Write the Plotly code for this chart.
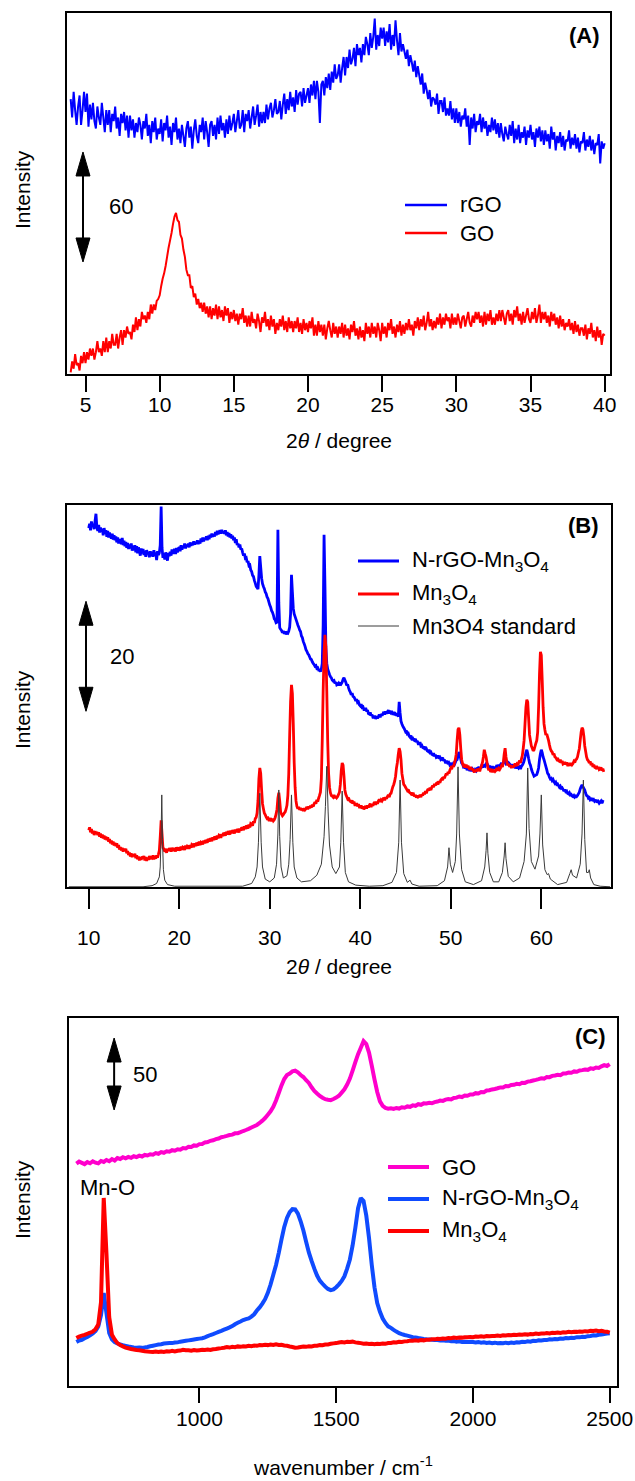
import plotly.graph_objects as go

W, H = 635, 1481
FONT = "Liberation Sans, Arial, sans-serif"

# ---------------- (A) XRD: rGO and GO ----------------
A_START, A_STEP = 4.0, 0.1
rgo_a = [
    163, 153, 167, 157, 149, 159, 165, 149, 157, 167,
    156, 166, 148, 160, 152, 161, 151, 147, 159, 153,
    149, 161, 153, 145, 157, 149, 157, 145, 155, 151,
    159, 147, 153, 143, 155, 150, 156, 146, 154, 142,
    154, 146, 152, 142, 150, 145, 153, 149, 141, 151,
    147, 155, 143, 149, 139, 151, 145, 153, 141, 147,
    144, 152, 140, 150, 146, 154, 142, 148, 138, 150,
    145, 153, 141, 147, 139, 149, 143, 137, 147, 151,
    142, 148, 136, 146, 152, 143, 139, 149, 145, 153,
    141, 151, 145, 137, 149, 151, 143, 149, 141, 153,
    144, 154, 146, 150, 142, 152, 144, 154, 146, 150,
    155, 145, 151, 157, 147, 149, 157, 145, 155, 151,
    157, 147, 153, 159, 149, 154, 160, 148, 156, 150,
    156, 150, 160, 152, 158, 161, 153, 157, 163, 155,
    156, 162, 152, 160, 166, 155, 163, 157, 167, 159,
    164, 156, 168, 160, 166, 167, 159, 169, 161, 165,
    169, 161, 171, 165, 173, 163, 173, 167, 150, 171,
    173, 165, 175, 169, 177, 168, 178, 172, 182, 174,
    176, 182, 172, 180, 186, 176, 186, 180, 190, 182,
    185, 191, 181, 193, 187, 191, 183, 193, 187, 197,
    193, 187, 199, 191, 197, 207, 190, 198, 192, 202,
    196, 202, 192, 200, 194, 204, 190, 198, 192, 206,
    195, 187, 199, 189, 193, 189, 185, 190, 181, 187,
    183, 178, 184, 175, 181, 176, 171, 177, 166, 172,
    168, 163, 168, 159, 164, 163, 160, 166, 155, 162,
    162, 156, 164, 154, 158, 154, 162, 152, 158, 150,
    158, 150, 156, 148, 154, 152, 158, 148, 154, 138,
    153, 147, 155, 145, 151, 149, 155, 145, 153, 147,
    151, 143, 149, 145, 153, 146, 152, 144, 150, 142,
    150, 144, 140, 148, 144, 141, 149, 143, 151, 139,
    147, 141, 149, 139, 145, 142, 148, 138, 146, 142,
    149, 141, 145, 137, 147, 142, 148, 140, 146, 138,
    146, 140, 144, 136, 148, 141, 145, 135, 143, 139,
    145, 137, 143, 135, 141, 140, 146, 136, 142, 138,
    144, 136, 142, 134, 140, 139, 145, 135, 141, 137,
    143, 135, 141, 133, 139, 138, 144, 128, 140, 136,
    139,
]
go_a = [
    14, 20, 16, 24, 18, 19, 15, 23, 19, 25,
    19, 25, 21, 27, 23, 27, 21, 25, 31, 25,
    27, 23, 31, 25, 33, 25, 31, 27, 35, 29,
    29, 35, 27, 33, 37, 29, 37, 33, 39, 35,
    36, 32, 40, 36, 44, 37, 43, 39, 47, 43,
    45, 41, 47, 43, 51, 46, 51, 48, 53, 54,
    56, 61, 65, 68, 72, 77, 82, 86, 90, 95,
    99, 101, 97, 96, 89, 87, 81, 77, 70, 67,
    67, 60, 61, 55, 57, 51, 54, 49, 52, 47,
    52, 46, 50, 44, 50, 43, 49, 45, 51, 43,
    50, 44, 48, 42, 50, 45, 49, 41, 47, 43,
    48, 42, 46, 40, 46, 43, 49, 41, 45, 39,
    45, 39, 47, 41, 43, 38, 46, 42, 36, 44,
    41, 47, 39, 43, 37, 45, 39, 43, 35, 41,
    37, 43, 39, 45, 37, 42, 36, 44, 38, 42,
    36, 42, 38, 44, 36, 41, 35, 43, 37, 41,
    36, 42, 38, 44, 34, 40, 34, 42, 36, 40,
    34, 40, 32, 38, 42, 37, 33, 41, 35, 39,
    33, 39, 35, 41, 33, 40, 34, 38, 32, 40,
    36, 42, 34, 38, 32, 39, 33, 37, 31, 41,
    35, 39, 33, 41, 35, 39, 33, 41, 37, 31,
    41, 35, 39, 33, 41, 37, 43, 35, 39, 33,
    40, 36, 42, 34, 40, 35, 41, 37, 43, 37,
    40, 34, 42, 38, 44, 37, 43, 39, 45, 37,
    41, 47, 39, 43, 37, 42, 38, 44, 40, 46,
    38, 44, 40, 46, 42, 44, 38, 46, 40, 44,
    40, 46, 42, 38, 44, 45, 39, 43, 47, 41,
    39, 45, 41, 47, 43, 47, 41, 45, 39, 47,
    40, 46, 42, 48, 40, 44, 40, 46, 42, 48,
    42, 48, 44, 40, 46, 48, 42, 46, 40, 48,
    44, 50, 42, 46, 40, 47, 41, 45, 49, 43,
    41, 47, 43, 49, 41, 45, 51, 41, 47, 43,
    47, 41, 45, 39, 47, 42, 46, 40, 44, 38,
    45, 39, 43, 37, 41, 39, 43, 37, 41, 35,
    42, 36, 40, 34, 38, 38, 34, 40, 32, 38,
    35, 41, 33, 37, 31, 39, 33, 37, 29, 35,
    34,
]

# ---------------- (B) XRD: N-rGO-Mn3O4, Mn3O4, reference pattern ----------------
B_START, B_STEP = 10.0, 0.1
nrgo_b = [
    65.6, 66.4, 65.2, 66.8, 65.9, 66.3, 65.4, 66.9, 68.2, 65.8,
    65.1, 66.2, 64.8, 65.7, 64.9, 65.5, 64.3, 65.6, 64.6, 65.2,
    64.0, 65.1, 63.9, 64.8, 64.2, 63.7, 64.6, 63.5, 64.3, 63.4,
    64.1, 63.0, 63.9, 62.8, 63.6, 63.2, 62.7, 63.8, 62.5, 63.3,
    62.3, 63.1, 62.0, 62.9, 61.8, 62.6, 61.9, 62.8, 61.5, 62.4,
    61.6, 62.5, 61.2, 62.3, 61.0, 62.1, 61.4, 60.6, 61.9, 61.0,
    61.8, 60.7, 61.5, 60.4, 61.6, 60.9, 61.3, 60.3, 61.4, 60.5,
    61.3, 60.4, 61.6, 60.6, 61.2, 59.8, 61.4, 60.7, 61.1, 62.5,
    69.5, 62.0, 60.2, 61.0, 59.9, 61.2, 60.4, 59.7, 61.1, 60.5,
    61.3, 60.6, 61.7, 60.9, 61.5, 61.8, 60.9, 62.0, 61.2, 61.9,
    62.1, 61.4, 62.5, 61.7, 62.3, 62.0, 62.8, 61.9, 62.6, 62.2,
    62.8, 62.1, 63.0, 62.4, 62.9, 62.5, 63.2, 62.6, 63.1, 62.7,
    63.4, 62.7, 63.3, 62.8, 63.7, 63.1, 63.9, 63.2, 63.8, 63.5,
    64.1, 63.4, 64.2, 63.6, 64.4, 63.9, 64.6, 64.0, 64.5, 64.1,
    64.9, 64.3, 65.1, 64.5, 64.8, 65.2, 64.6, 65.3, 64.7, 65.0,
    64.6, 65.2, 64.3, 64.9, 64.1, 64.7, 63.9, 64.5, 63.7, 64.2,
    63.4, 63.9, 62.9, 63.6, 62.5, 62.8, 62.1, 62.6, 61.7, 61.9,
    61.2, 60.6, 61.0, 60.1, 60.2, 59.4, 59.6, 58.8, 58.9, 58.0,
    57.7, 57.0, 56.8, 56.1, 55.6, 55.0, 54.8, 54.5, 57.0, 60.5,
    58.5, 56.5, 55.5, 55.0, 54.6, 54.0, 53.7, 53.1, 52.8, 52.2,
    51.6, 51.2, 50.6, 50.3, 49.8, 49.1, 48.9, 48.4, 48.5, 65.3,
    52.0, 47.5, 47.2, 47.0, 46.6, 46.9, 46.4, 46.8, 46.3, 46.6,
    46.5, 46.9, 47.6, 50.0, 57.1, 54.0, 51.0, 50.0, 49.5, 49.0,
    48.5, 48.0, 47.6, 47.1, 46.8, 46.0, 45.7, 45.0, 44.6, 44.1,
    43.5, 43.2, 42.8, 42.6, 42.2, 41.8, 41.7, 41.3, 41.0, 40.8,
    40.5, 40.6, 40.1, 40.2, 39.8, 39.8, 39.5, 40.0, 41.0, 48.0,
    64.4, 55.0, 44.0, 41.0, 40.0, 39.5, 39.0, 38.6, 38.4, 38.0,
    37.8, 37.9, 37.4, 37.6, 37.1, 37.2, 37.4, 37.0, 37.5, 37.3,
    37.6, 38.1, 38.4, 38.0, 37.6, 37.0, 37.2, 36.6, 36.1, 35.8,
    35.3, 35.6, 35.0, 34.9, 34.6, 34.2, 34.5, 33.9, 34.0, 33.5,
    33.3, 33.6, 33.0, 33.1, 32.6, 32.6, 32.9, 32.3, 32.5, 31.9,
    31.8, 32.1, 31.5, 31.7, 31.2, 31.2, 31.5, 30.9, 31.4, 31.0,
    31.3, 31.7, 31.2, 31.8, 31.5, 31.8, 32.2, 31.7, 32.3, 31.9,
    32.2, 32.5, 31.9, 32.4, 32.0, 32.1, 31.7, 32.2, 31.6, 31.8,
    31.5, 31.9, 31.3, 34.0, 32.0, 30.5, 30.0, 29.6, 29.3, 29.0,
    28.6, 28.8, 28.2, 28.3, 27.8, 27.6, 27.9, 27.3, 27.4, 27.1,
    27.0, 27.3, 26.7, 26.9, 26.4, 26.4, 26.7, 26.0, 26.1, 25.7,
    25.6, 25.9, 25.3, 25.5, 25.1, 25.0, 25.3, 24.8, 24.9, 24.5,
    24.4, 24.7, 24.1, 24.4, 23.9, 24.0, 24.3, 23.7, 23.9, 23.5,
    23.6, 23.9, 23.3, 23.5, 23.0, 23.0, 23.3, 22.7, 22.9, 22.5,
    22.6, 22.9, 22.4, 22.8, 22.6, 23.0, 23.4, 23.5, 24.2, 24.9,
    24.5, 23.6, 22.9, 22.7, 22.2, 22.3, 21.9, 22.2, 21.6, 21.9,
    21.8, 21.5, 21.9, 21.4, 21.8, 21.6, 21.3, 21.7, 21.5, 21.9,
    22.0, 21.7, 22.2, 21.9, 22.4, 22.3, 22.1, 22.6, 22.4, 22.8,
    22.8, 22.5, 22.1, 22.4, 21.9, 22.0, 22.3, 21.8, 22.2, 21.9,
    22.2, 22.5, 22.0, 22.6, 22.2, 22.6, 22.9, 22.4, 22.9, 23.1,
    23.2, 22.8, 23.0, 22.6, 22.9, 22.7, 22.3, 22.7, 22.2, 22.6,
    22.3, 22.0, 22.4, 21.9, 22.3, 22.0, 22.2, 21.8, 22.3, 22.5,
    22.8, 23.3, 24.0, 24.8, 25.3, 24.6, 23.7, 22.9, 22.5, 21.8,
    21.3, 20.9, 20.5, 20.6, 20.7, 20.8, 21.3, 22.0, 23.5, 24.6,
    25.3, 24.8, 24.0, 23.5, 22.9, 22.3, 21.7, 21.0, 20.8, 20.3,
    20.0, 20.1, 19.7, 19.9, 19.5, 19.2, 19.4, 19.0, 19.1, 18.8,
    18.5, 18.7, 18.3, 18.4, 18.1, 17.8, 18.1, 17.7, 17.8, 17.4,
    17.3, 17.5, 17.1, 17.2, 16.9, 16.8, 17.0, 16.7, 16.9, 16.8,
    17.0, 17.3, 17.6, 18.2, 18.6, 18.9, 18.6, 18.3, 18.0, 17.4,
    17.0, 16.9, 16.5, 16.6, 16.2, 16.3, 16.5, 16.0, 16.2, 15.9,
    16.0, 16.2, 15.7, 15.9, 15.6, 15.8, 16.0, 15.6, 15.9, 15.8,
]
mn3o4_b = [
    10.7, 11.2, 10.3, 10.9, 10.1, 10.6, 9.8, 10.5, 10.0, 10.4,
    9.8, 10.3, 9.5, 10.1, 9.3, 9.9, 9.2, 9.7, 9.0, 9.5,
    8.9, 9.4, 8.6, 9.1, 8.3, 8.8, 8.1, 8.6, 7.9, 8.4,
    7.8, 8.3, 7.5, 8.0, 7.2, 7.6, 7.0, 7.5, 6.8, 7.3,
    6.9, 7.3, 6.5, 6.9, 6.2, 6.6, 5.9, 6.5, 5.8, 6.3,
    6.0, 6.4, 5.6, 6.1, 5.4, 5.9, 5.2, 5.8, 5.3, 5.9,
    5.6, 6.0, 5.2, 5.8, 5.1, 5.7, 5.3, 6.0, 5.4, 5.9,
    5.7, 6.1, 5.4, 6.0, 5.5, 6.1, 5.7, 6.3, 7.0, 9.5,
    12.5, 10.0, 7.5, 7.3, 6.8, 7.0, 6.6, 7.3, 6.9, 7.4,
    7.2, 6.8, 7.5, 6.9, 7.4, 7.2, 6.8, 7.6, 7.0, 7.5,
    7.3, 7.0, 7.7, 7.1, 7.6, 7.5, 7.1, 7.9, 7.3, 7.8,
    7.7, 7.3, 8.0, 7.5, 8.1, 8.0, 7.6, 8.3, 7.8, 8.4,
    8.2, 7.9, 8.6, 8.0, 8.5, 8.4, 8.1, 8.8, 8.3, 8.9,
    8.7, 8.4, 9.1, 8.6, 9.2, 9.0, 8.7, 9.4, 8.9, 9.5,
    9.3, 9.0, 9.7, 9.2, 9.8, 9.7, 9.3, 10.0, 9.6, 10.2,
    10.0, 9.7, 10.4, 9.9, 10.5, 10.2, 9.9, 10.6, 10.1, 10.7,
    10.4, 10.1, 10.8, 10.3, 10.9, 10.6, 10.3, 11.0, 10.6, 11.2,
    11.0, 10.7, 11.4, 10.9, 11.5, 11.3, 11.0, 11.7, 11.2, 11.9,
    11.8, 11.5, 12.3, 12.0, 12.8, 13.0, 13.8, 16.0, 20.0, 22.0,
    21.0, 18.0, 15.5, 14.6, 13.8, 13.5, 13.1, 12.8, 12.9, 12.5,
    12.5, 12.9, 12.3, 12.8, 12.4, 12.6, 13.0, 13.6, 14.5, 16.5,
    17.5, 16.0, 14.0, 13.6, 13.3, 13.5, 13.8, 14.0, 14.5, 15.2,
    17.0, 21.0, 28.0, 34.0, 37.1, 35.5, 30.0, 23.0, 18.5, 16.0,
    15.0, 14.6, 14.9, 14.4, 14.7, 14.3, 14.6, 14.2, 14.7, 14.4,
    14.6, 14.9, 14.5, 15.0, 14.7, 15.1, 14.8, 15.3, 15.0, 15.5,
    15.8, 15.5, 16.2, 15.9, 16.5, 17.0, 17.6, 20.0, 27.0, 36.0,
    43.0, 46.2, 44.0, 36.0, 27.0, 21.0, 18.5, 17.5, 17.0, 16.9,
    16.7, 17.1, 16.5, 16.9, 16.6, 16.8, 17.2, 17.6, 19.0, 21.5,
    22.9, 22.5, 20.5, 18.0, 17.2, 16.8, 16.4, 16.6, 16.1, 15.9,
    15.8, 16.1, 15.5, 15.9, 15.3, 15.3, 15.6, 15.0, 15.4, 14.9,
    14.9, 15.2, 14.6, 15.0, 14.5, 14.8, 15.1, 14.6, 15.2, 14.8,
    15.2, 15.5, 14.9, 15.4, 15.1, 15.6, 15.8, 15.3, 15.9, 15.5,
    16.0, 16.3, 15.8, 16.2, 16.0, 16.3, 16.6, 16.1, 16.7, 16.4,
    16.8, 17.1, 16.7, 17.3, 17.4, 18.0, 18.6, 19.0, 19.6, 20.5,
    22.0, 23.0, 24.5, 25.6, 25.0, 23.5, 21.0, 20.0, 19.0, 18.8,
    18.5, 18.2, 17.9, 18.1, 17.6, 17.5, 17.3, 17.5, 17.0, 17.2,
    16.8, 17.1, 16.6, 17.0, 16.7, 16.8, 17.1, 16.7, 17.2, 17.0,
    17.5, 17.2, 17.8, 17.4, 17.9, 18.2, 17.9, 18.4, 18.0, 18.5,
    18.8, 18.5, 19.1, 18.8, 19.2, 19.3, 19.0, 19.6, 19.3, 19.8,
    20.0, 19.8, 20.4, 20.1, 20.6, 21.0, 20.7, 21.3, 21.0, 21.6,
    22.0, 21.8, 22.4, 22.2, 22.9, 23.5, 24.5, 27.0, 29.0, 29.3,
    28.0, 25.5, 23.5, 22.8, 22.4, 22.5, 22.1, 22.6, 22.0, 22.4,
    22.0, 21.7, 22.2, 21.6, 21.9, 21.5, 21.2, 21.7, 21.3, 21.8,
    21.5, 21.9, 21.4, 22.0, 22.4, 23.0, 24.0, 25.3, 24.6, 24.0,
    23.0, 22.0, 21.6, 21.9, 21.3, 21.5, 21.8, 21.2, 21.7, 21.4,
    21.6, 22.0, 21.5, 21.9, 21.7, 22.0, 22.4, 22.2, 23.0, 24.5,
    25.6, 24.0, 23.0, 22.5, 22.7, 22.2, 22.5, 22.0, 22.4, 22.1,
    22.4, 22.8, 22.3, 22.7, 22.5, 23.0, 23.3, 22.9, 23.6, 24.2,
    25.5, 27.0, 30.0, 33.0, 34.4, 34.0, 31.0, 28.0, 27.0, 26.0,
    25.6, 25.1, 25.3, 25.9, 26.5, 27.0, 28.5, 33.0, 39.0, 43.1,
    42.5, 38.0, 33.0, 30.0, 28.9, 28.0, 28.2, 27.6, 27.0, 26.2,
    25.5, 25.1, 24.9, 24.4, 24.6, 24.0, 23.9, 23.6, 23.8, 23.3,
    23.2, 23.5, 22.9, 23.3, 22.7, 22.8, 23.1, 22.6, 23.0, 22.5,
    22.5, 22.9, 22.4, 22.9, 22.6, 22.8, 23.2, 23.0, 23.5, 23.6,
    24.0, 24.8, 25.5, 27.0, 28.5, 29.3, 29.0, 27.8, 26.0, 25.0,
    24.0, 23.5, 23.3, 22.9, 23.2, 22.5, 22.9, 22.2, 22.6, 22.1,
    22.0, 22.4, 21.8, 22.2, 21.7, 21.8, 22.1, 21.5, 21.9, 21.3,
]
std_x = [
    7.8, 16.0, 17.0, 17.5, 17.8, 17.9, 18.0, 18.07, 18.15, 18.25, 18.4, 18.7, 19.5,
    27.0, 28.0, 28.4, 28.6, 28.75, 28.9, 29.05, 29.2, 29.5, 30.0, 30.5, 30.75, 30.9,
    31.0, 31.1, 31.25, 31.5, 31.9, 32.1, 32.25, 32.4, 32.55, 32.7, 33.0, 33.5, 34.5,
    35.2, 35.7, 36.0, 36.15, 36.3, 36.45, 36.6, 36.9, 37.3, 37.7, 37.85, 38.0, 38.15,
    38.35, 38.7, 39.5, 41.0, 42.5, 43.5, 44.0, 44.25, 44.4, 44.55, 44.8, 45.2, 45.5,
    45.7, 46.5, 48.5, 49.3, 49.65, 49.8, 49.95, 50.2, 50.5, 50.65, 50.8, 50.95, 51.2,
    51.6, 52.5, 53.4, 53.75, 53.9, 54.0, 54.1, 54.3, 54.7, 55.3, 55.7, 55.9, 56.0,
    56.1, 56.35, 56.9, 57.6, 58.1, 58.35, 58.5, 58.65, 58.9, 59.3, 59.7, 59.85, 60.0,
    60.15, 60.4, 60.65, 60.8, 61.0, 61.8, 62.8, 63.15, 63.3, 63.45, 63.9, 64.3, 64.5,
    64.65, 64.8, 65.0, 65.2, 65.3, 65.45, 65.8, 66.5, 67.6,
]
std_y = [
    0.4, 0.4, 0.6, 1.0, 2.2, 4.0, 10.0, 17.1, 9.0, 3.5, 1.6, 0.8, 0.5,
    0.5, 1.0, 2.2, 4.0, 8.5, 17.4, 8.5, 4.0, 1.8, 1.3, 2.0, 4.5, 10.0,
    18.0, 9.5, 4.0, 2.0, 2.4, 4.5, 9.0, 17.1, 8.5, 4.0, 2.0, 1.3, 1.5,
    2.5, 4.5, 9.5, 15.0, 22.3, 14.0, 8.0, 4.0, 2.8, 4.0, 8.5, 17.8, 8.5,
    3.0, 1.3, 0.7, 0.5, 0.6, 1.2, 3.0, 8.5, 19.8, 8.5, 2.8, 1.2, 1.6,
    0.9, 0.5, 0.6, 1.5, 4.0, 7.5, 4.5, 3.0, 5.0, 10.0, 22.2, 10.0, 3.5,
    1.3, 0.8, 1.5, 4.0, 7.0, 10.2, 6.5, 3.0, 1.3, 1.3, 3.0, 6.0, 8.4,
    5.5, 2.3, 1.3, 2.0, 5.0, 10.0, 22.0, 11.0, 5.0, 3.6, 6.0, 10.0, 17.1,
    8.0, 3.5, 2.6, 2.8, 1.8, 0.8, 1.2, 2.8, 3.5, 2.5, 2.0, 4.5, 10.0,
    19.8, 9.0, 3.0, 3.0, 3.5, 2.0, 0.8, 0.5, 0.4,
]

# ---------------- (C) Raman: GO, N-rGO-Mn3O4, Mn3O4 ----------------
C_START, C_STEP = 550, 10
go_c = [
    154.5, 155.9, 155.0, 154.1, 155.5, 154.7, 156.1, 155.1, 154.6, 156.3,
    155.6, 157.0, 156.1, 157.6, 156.6, 158.3, 157.7, 158.9, 158.1, 159.1,
    158.5, 159.6, 159.0, 160.0, 159.4, 160.5, 160.1, 161.0, 160.7, 161.8,
    161.3, 162.5, 162.0, 163.0, 162.7, 163.8, 163.4, 164.4, 164.1, 165.3,
    165.0, 166.1, 166.0, 167.1, 166.9, 168.0, 168.1, 169.2, 169.4, 170.3,
    170.7, 171.5, 171.9, 172.8, 173.2, 173.7, 174.3, 174.6, 175.5, 175.6,
    176.3, 177.1, 177.8, 178.6, 179.5, 180.4, 181.3, 182.7, 184.3, 186.1,
    188.4, 190.8, 193.9, 198.3, 203.5, 208.8, 213.2, 216.0, 217.0, 218.5,
    219.0, 217.8, 216.0, 214.6, 212.4, 210.5, 207.5, 205.0, 203.2, 201.5,
    200.2, 199.2, 198.8, 198.5, 199.3, 200.3, 201.6, 203.8, 206.1, 209.4,
    213.5, 219.0, 224.9, 230.5, 235.0, 239.5, 237.5, 231.6, 222.5, 213.0,
    204.2, 197.7, 194.6, 193.2, 192.6, 192.9, 192.4, 193.1, 192.7, 193.6,
    193.3, 194.2, 193.9, 194.9, 194.6, 195.7, 195.3, 196.3, 196.2, 196.7,
    196.4, 197.2, 197.6, 198.3, 198.0, 198.9, 199.3, 199.0, 200.1, 200.3,
    201.1, 200.7, 201.7, 201.6, 202.5, 202.4, 203.4, 203.2, 204.2, 204.1,
    205.2, 205.4, 206.0, 206.3, 206.8, 207.4, 207.3, 208.3, 208.2, 209.1,
    209.2, 209.9, 209.6, 210.6, 210.5, 211.4, 211.7, 212.2, 212.6, 213.1,
    213.7, 213.5, 214.6, 214.5, 215.4, 215.7, 216.2, 215.9, 217.0, 217.1,
    217.8, 217.6, 218.5, 218.3, 219.2, 219.4, 219.8, 219.6, 220.6, 220.3,
    221.2, 220.9, 222.0, 222.9, 222.3, 223.6,
]
nrgo_c = [
    30.6, 31.6, 32.1, 33.2, 34.1, 35.2, 36.5, 38.3, 41.4, 49.2,
    64.6, 50.5, 36.9, 32.4, 30.5, 29.6, 28.8, 28.3, 27.9, 27.4,
    27.1, 26.8, 26.6, 26.7, 26.5, 26.8, 27.1, 27.6, 28.0, 28.4,
    28.8, 29.0, 29.5, 29.7, 29.9, 29.8, 30.2, 30.3, 30.8, 31.1,
    31.4, 31.7, 32.0, 32.3, 32.6, 32.9, 33.2, 33.8, 34.6, 35.4,
    36.0, 36.8, 37.6, 38.3, 39.1, 39.9, 40.7, 41.6, 42.9, 43.9,
    44.8, 45.8, 46.5, 47.0, 48.2, 49.8, 52.4, 54.6, 57.2, 60.3,
    64.7, 70.5, 77.3, 84.1, 92.5, 101.9, 110.5, 116.7, 120.7, 122.8,
    122.6, 119.7, 114.4, 108.0, 100.2, 92.8, 86.9, 81.5, 76.7, 73.2,
    71.0, 69.0, 67.4, 66.6, 67.1, 68.6, 70.6, 73.0, 76.2, 81.5,
    87.9, 97.6, 109.9, 123.5, 130.5, 128.5, 118.3, 102.8, 84.1, 68.6,
    57.6, 51.5, 46.9, 43.8, 41.4, 40.4, 39.0, 37.8, 36.7, 36.0,
    35.4, 35.0, 34.5, 33.9, 33.7, 33.3, 33.0, 32.6, 32.4, 32.3,
    32.1, 32.0, 31.9, 31.6, 31.7, 31.4, 31.5, 31.1, 31.2, 30.8,
    31.0, 30.6, 30.8, 30.5, 30.7, 30.5, 30.2, 30.6, 30.1, 30.3,
    29.9, 30.2, 29.8, 30.1, 29.7, 29.9, 29.7, 30.1, 29.8, 30.2,
    29.9, 30.3, 30.2, 30.7, 30.5, 31.0, 30.8, 31.4, 31.2, 31.7,
    31.6, 32.0, 31.9, 32.4, 32.3, 32.6, 32.5, 32.9, 32.8, 33.3,
    33.2, 33.5, 33.4, 33.9, 33.8, 34.2, 34.1, 34.6, 34.7, 35.2,
    35.1, 35.6, 35.8, 36.1, 36.4, 36.7,
]
mn3o4_c = [
    33.3, 34.3, 35.0, 35.5, 36.3, 37.0, 37.8, 39.5, 42.7, 58.2,
    130.6, 91.8, 47.9, 35.6, 32.3, 29.8, 28.4, 27.5, 26.7, 26.2,
    25.7, 25.4, 25.0, 24.8, 24.5, 24.1, 23.9, 23.7, 23.6, 23.9,
    23.6, 24.0, 23.7, 24.1, 23.9, 24.4, 24.0, 24.5, 24.6, 25.2,
    24.9, 24.8, 24.5, 25.0, 24.6, 24.9, 25.2, 25.0, 25.3, 25.0,
    25.5, 25.7, 26.1, 26.3, 26.6, 27.0, 26.7, 27.2, 27.0, 27.5,
    27.2, 27.6, 27.5, 27.9, 27.7, 28.1, 27.9, 28.4, 28.3, 28.6,
    28.4, 28.8, 28.5, 28.9, 28.5, 28.6, 28.1, 27.9, 27.4, 27.1,
    26.6, 26.7, 27.1, 27.4, 27.2, 27.6, 27.5, 27.9, 28.0, 28.4,
    28.3, 28.8, 28.9, 29.3, 29.6, 29.8, 30.2, 30.5, 30.3, 30.7,
    30.5, 30.8, 30.3, 30.1, 29.8, 29.4, 29.5, 29.2, 29.4, 29.0,
    29.3, 29.2, 29.5, 29.3, 29.8, 29.9, 30.3, 30.2, 30.7, 30.6,
    31.0, 31.1, 31.5, 31.4, 31.7, 31.5, 31.9, 31.7, 32.1, 32.1,
    32.5, 32.4, 32.8, 32.6, 33.0, 32.9, 33.3, 33.2, 33.6, 33.4,
    33.7, 33.6, 33.9, 33.8, 34.1, 33.9, 34.3, 34.2, 34.5, 34.3,
    34.7, 34.5, 34.8, 34.7, 35.0, 34.8, 35.2, 35.1, 35.4, 35.2,
    35.6, 35.4, 35.7, 35.6, 36.0, 35.7, 36.1, 36.0, 36.4, 36.1,
    36.5, 36.4, 36.8, 36.5, 36.9, 36.8, 37.2, 36.9, 37.3, 37.2,
    37.6, 37.3, 37.7, 37.6, 37.9, 37.7, 38.1, 37.9, 38.3, 38.2,
    38.5, 38.1, 38.3, 37.9, 37.7, 37.0,
]

A_TICKS = [5, 10, 15, 20, 25, 30, 35, 40]
B_TICKS = [10, 20, 30, 40, 50, 60]
C_TICKS = [1000, 1500, 2000, 2500]

assert len(rgo_a) == len(go_a) == 361
assert len(nrgo_b) == len(mn3o4_b) == 570
assert len(std_x) == len(std_y)
assert len(go_c) == len(nrgo_c) == len(mn3o4_c) == 196

x_a = [round(A_START + A_STEP * i, 2) for i in range(len(rgo_a))]
x_b = [round(B_START + B_STEP * i, 2) for i in range(len(nrgo_b))]
x_c = [C_START + C_STEP * i for i in range(len(go_c))]

BLUE, RED = "#0000FF", "#FF0000"
MAGENTA, AZURE, GREY = "#FF00CC", "#0F4BFF", "#3A3A3A"

# panel frames in page pixels, axis ranges in data units
PANELS = [
    dict(sfx="", left=67, right=610, top=13, bottom=374, xr=[3.752, 40.36], yr=[13.1, 210],
         ticks=A_TICKS, ticklen=16, standoff=-5, title="2<i>θ</i> / degree", title_y=440,
         tag="(A)", tag_xy=(584, 36), ylab_y=190),
    dict(sfx="2", left=67, right=611, top=505, bottom=887, xr=[7.60, 67.70], yr=[0.36, 69.8],
         ticks=B_TICKS, ticklen=20, standoff=11, title="2<i>θ</i> / degree", title_y=967,
         tag="(B)", tag_xy=(583, 525), ylab_y=710),
    dict(sfx="3", left=69, right=617, top=1018, bottom=1386, xr=[523, 2526.7], yr=[0, 255.6],
         ticks=C_TICKS, ticklen=15, standoff=-2, title="wavenumber / cm<sup>-1</sup>",
         title_y=1466, tag="(C)", tag_xy=(590, 1036), ylab_y=1200),
]

def px(x):
    return x / W

def py(y):
    return 1 - y / H

fig = go.Figure()

series = [
    (0, x_a, rgo_a, BLUE, 2.0),
    (0, x_a, go_a, RED, 2.0),
    (1, x_b, nrgo_b, BLUE, 2.8),
    (1, x_b, mn3o4_b, RED, 2.8),
    (1, std_x, std_y, GREY, 1.0),
    (2, x_c, go_c, MAGENTA, 4),
    (2, x_c, nrgo_c, AZURE, 4),
    (2, x_c, mn3o4_c, RED, 4),
]
for idx, xs, ys, col, lw in series:
    s = PANELS[idx]["sfx"]
    fig.add_trace(go.Scatter(x=xs, y=ys, mode="lines",
                             line=dict(color=col, width=lw, simplify=False),
                             xaxis="x" + s, yaxis="y" + s, showlegend=False,
                             hoverinfo="skip"))

layout = {}
annotations = []
shapes = []

def text(t, x, y, size=21, xanchor="center", yanchor="middle", **kw):
    annotations.append(dict(text=t, x=x, y=y, xref=kw.pop("xref", "paper"),
                            yref=kw.pop("yref", "paper"), xanchor=xanchor, yanchor=yanchor,
                            showarrow=False, font=dict(family=FONT, size=size, color="black"),
                            **kw))

for p in PANELS:
    s = p["sfx"]
    layout["xaxis" + s] = dict(
        domain=[px(p["left"]), px(p["right"])], range=p["xr"], anchor="y" + s,
        tickvals=p["ticks"], ticks="outside", ticklen=p["ticklen"], tickwidth=2,
        tickcolor="black", ticklabelstandoff=p["standoff"],
        showline=True, linewidth=2, linecolor="black", mirror=True,
        showgrid=False, zeroline=False, automargin=False,
        tickfont=dict(family=FONT, size=21, color="black"))
    layout["yaxis" + s] = dict(
        domain=[py(p["bottom"]), py(p["top"])], range=p["yr"], anchor="x" + s,
        showline=True, linewidth=2, linecolor="black", mirror=True,
        showticklabels=False, ticks="", showgrid=False, zeroline=False, automargin=False)
    text(p["title"], px((p["left"] + p["right"]) / 2), py(p["title_y"]))
    text("Intensity", px(22), py(p["ylab_y"]), textangle=-90)
    text("<b>%s</b>" % p["tag"], px(p["tag_xy"][0]), py(p["tag_xy"][1]), size=22)

# legends drawn as short line samples plus labels
LEGENDS = [
    (405, 447, 458, [(205, "rGO", BLUE, 2.5), (233, "GO", RED, 2.5)]),
    (358, 399, 410, [(561, "N-rGO-Mn<sub>3</sub>O<sub>4</sub>", BLUE, 3),
                     (594, "Mn<sub>3</sub>O<sub>4</sub>", RED, 3),
                     (626, "Mn3O4 standard", GREY, 1)]),
    (388, 429, 440, [(1167, "GO", MAGENTA, 4),
                     (1199, "N-rGO-Mn<sub>3</sub>O<sub>4</sub>", AZURE, 4),
                     (1231, "Mn<sub>3</sub>O<sub>4</sub>", RED, 4)]),
]
for x0, x1, xt, rows in LEGENDS:
    for yy, label, col, lw in rows:
        shapes.append(dict(type="line", xref="paper", yref="paper", x0=px(x0), x1=px(x1),
                           y0=py(yy), y1=py(yy), line=dict(color=col, width=lw)))
        text(label, px(xt), py(yy), size=22, xanchor="left")

# intensity scale bars (double-headed arrows); length in data units
SCALE_BARS = [(0, 4.83, 74.2, 60, "60", 24), (1, 9.70, 32.3, 20, "20", 22),
              (2, 688, 191.7, 50, "50", 17)]
for idx, xb, yb, length, label, gap in SCALE_BARS:
    p = PANELS[idx]
    s = p["sfx"]
    sx = (p["right"] - p["left"]) / (p["xr"][1] - p["xr"][0])
    sy = (p["bottom"] - p["top"]) / (p["yr"][1] - p["yr"][0])
    hh, hw = 24 / sy, 7 / sx
    yt = yb + length
    shapes.append(dict(type="line", xref="x" + s, yref="y" + s, x0=xb, x1=xb,
                       y0=yb + hh * 0.9, y1=yt - hh * 0.9, line=dict(color="black", width=2)))
    for tip, d in ((yt, -1), (yb, 1)):
        path = "M %f,%f L %f,%f L %f,%f Z" % (xb, tip, xb - hw, tip + d * hh,
                                              xb + hw, tip + d * hh)
        shapes.append(dict(type="path", xref="x" + s, yref="y" + s, path=path,
                           fillcolor="black", line=dict(color="black", width=1)))
    text(label, xb + gap / sx, (yb + yt) / 2, size=22, xanchor="left",
         xref="x" + s, yref="y" + s)

text("Mn-O", px(107), py(1187), size=22)

fig.update_layout(
    width=W, height=H, margin=dict(l=0, r=0, t=0, b=0),
    paper_bgcolor="white", plot_bgcolor="white",
    annotations=annotations, shapes=shapes, showlegend=False, **layout)

fig.write_html("out.html")
